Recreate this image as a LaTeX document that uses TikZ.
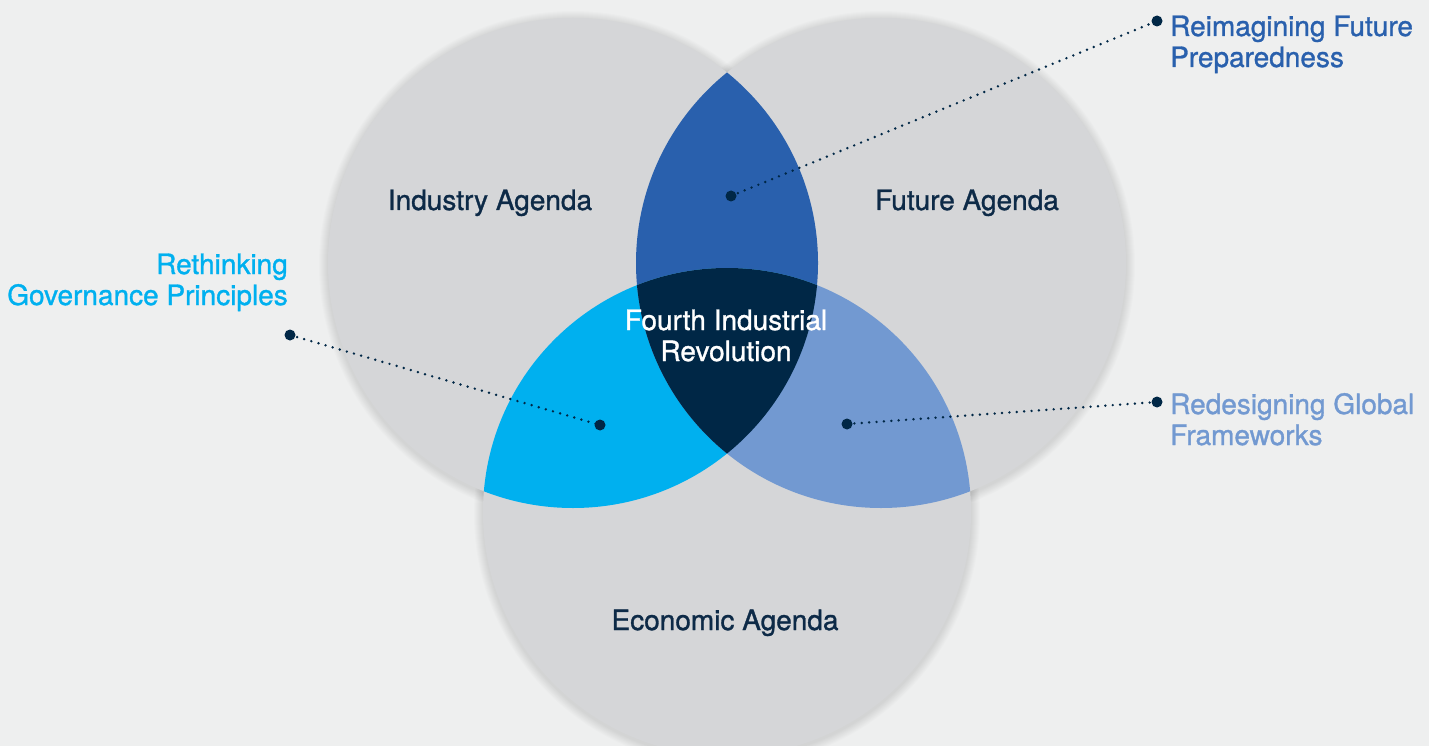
\documentclass[tikz,border=0pt]{standalone}
\usepackage{fontspec}
\newfontfamily\labfont[FakeBold=1.1]{TeX Gyre Heros}
\definecolor{bgc}{HTML}{EEEFEF}
\definecolor{circc}{HTML}{D5D6D8}
\definecolor{topc}{HTML}{2960AD}
\definecolor{cyanc}{HTML}{00B0EF}
\definecolor{lbluec}{HTML}{7299D1}
\definecolor{navyc}{HTML}{002746}
\definecolor{txtc}{HTML}{0D2A47}
\tikzset{
  lab/.style={font=\labfont\fontsize{28}{31}\selectfont, inner sep=0pt},
  dotnode/.style={circle, fill=navyc, minimum size=11pt, inner sep=0pt},
  dotline/.style={draw=navyc, line width=2.7pt, dash pattern=on 0pt off 7.4pt, line cap=round}
}
\begin{document}
\begin{tikzpicture}[x=1pt,y=-1pt]
\useasboundingbox (0,0) rectangle (1429,746);
\clip (0,0) rectangle (1429,746);
\fill[bgc] (0,0) rectangle (1429,746);
% soft shadows
\foreach \k in {1,...,9}{
  \fill[black, opacity=0.010] (573,265) circle ({245+\k});
  \fill[black, opacity=0.010] (881,265) circle ({245+\k});
  \fill[black, opacity=0.010] (727,514) circle ({244+\k});
}
% circles
\fill[circc] (573,263) circle (245);
\fill[circc] (881,263) circle (245);
\fill[circc] (727,512) circle (244);
% pairwise lenses
\begin{scope}
  \clip (573,263) circle (245);
  \fill[topc] (881,263) circle (245);
  \fill[cyanc] (727,512) circle (244);
\end{scope}
\begin{scope}
  \clip (881,263) circle (245);
  \fill[lbluec] (727,512) circle (244);
\end{scope}
\begin{scope}
  \clip (573,263) circle (245);
  \clip (881,263) circle (245);
  \fill[navyc] (727,512) circle (244);
\end{scope}
% circle labels
\node[lab, text=txtc, anchor=base] (ind) at (490,210) {Industry Agenda};
\node[lab, text=txtc, anchor=base] (fut) at (967,210) {Future Agenda};
\node[lab, text=txtc, anchor=base] (eco) at (725,630) {Economic Agenda};
\node[lab, text=white, anchor=base] (fir1) at (726,330) {Fourth Industrial};
\node[lab, text=white, anchor=base] (fir2) at (726,361) {Revolution};
% callout labels
\node[lab, text=topc, anchor=base west] (rf1) at (1170,36) {Reimagining Future};
\node[lab, text=topc, anchor=base west] (rf2) at (1170,67) {Preparedness};
\node[lab, text=cyanc, anchor=base east] (rg1) at (288,274) {Rethinking};
\node[lab, text=cyanc, anchor=base east] (rg2) at (288,305) {Governance Principles};
\node[lab, text=lbluec, anchor=base west] (dg1) at (1170,414) {Redesigning Global};
\node[lab, text=lbluec, anchor=base west] (dg2) at (1170,445) {Frameworks};
% dots and connectors
\node[dotnode] (o1) at (1157,21) {};
\node[dotnode] (i1) at (731,196) {};
\node[dotnode] (o2) at (290,335) {};
\node[dotnode] (i2) at (600,425) {};
\node[dotnode] (o3) at (1157,402) {};
\node[dotnode] (i3) at (847,424) {};
\draw[dotline] (i1.center) -- (o1.center);
\draw[dotline] (o2.center) -- (i2.center);
\draw[dotline] (i3.center) -- (o3.center);
\end{tikzpicture}
\end{document}
